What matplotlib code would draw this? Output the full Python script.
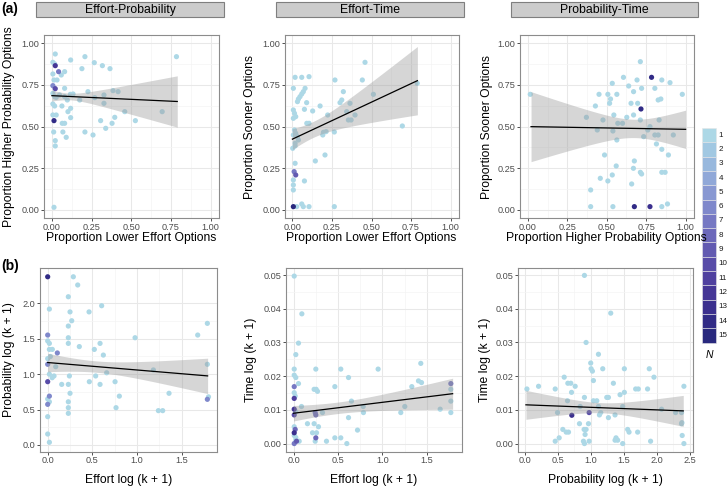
import numpy as np
import matplotlib
matplotlib.use('Agg')
import matplotlib.pyplot as plt
from matplotlib.patches import Rectangle

plt.rcParams['font.family'] = ['Liberation Sans', 'DejaVu Sans']

# ---- data ----
# (a) Effort-Probability
ep_x = [0.021, 0.006, 0.017, 0.021, 0.042, 0.059, 0.006, 0.013, 0.032, 0.080, 0.006, 0.021, 0.080,
        0.118, 0.208, 0.267, 0.318, 0.366, 0.189, 0.785, 0.227, 0.417, 0.385, 0.328, 0.270, 0.328,
        0.175, 0.133, 0.116, 0.097, 0.080, 0.048, 0.006, 0.017, 0.027, 0.063, 0.118, 0.101, 0.006,
        0.017, 0.013, 0.006, 0.027, 0.065, 0.080, 0.118, 0.011, 0.069, 0.090, 0.021, 0.021, 0.208,
        0.259, 0.307, 0.339, 0.396, 0.379, 0.459, 0.526, 0.695, 0.013]
ep_y = [0.936, 0.886, 0.876, 0.866, 0.830, 0.810, 0.816, 0.780, 0.780, 0.830, 0.746, 0.728, 0.730,
        0.900, 0.920, 0.884, 0.866, 0.848, 0.848, 0.920, 0.710, 0.710, 0.716, 0.690, 0.674, 0.640,
        0.660, 0.696, 0.694, 0.660, 0.680, 0.690, 0.700, 0.680, 0.676, 0.624, 0.610, 0.590, 0.636,
        0.624, 0.536, 0.570, 0.570, 0.520, 0.520, 0.554, 0.468, 0.468, 0.436, 0.416, 0.384, 0.468,
        0.450, 0.536, 0.490, 0.556, 0.520, 0.590, 0.536, 0.590, 0.016]
ep_n = [1, 1, 1, 12, 7, 1, 1, 1, 1, 1, 6, 10, 1,
        1, 1, 1, 1, 1, 1, 1, 1, 1, 1, 1, 1, 1,
        1, 1, 1, 1, 1, 1, 1, 1, 1, 1, 1, 1, 1,
        1, 14, 1, 1, 1, 1, 1, 1, 1, 1, 1, 1, 1,
        1, 1, 1, 1, 1, 1, 1, 1, 1]

# (a) Effort-Time
et_x = [0.017, 0.059, 0.105, 0.006, 0.080, 0.069, 0.059, 0.048, 0.038, 0.032, 0.090, 0.269, 0.459,
        0.442, 0.512, 0.322, 0.312, 0.301, 0.364, 0.175, 0.128, 0.076, 0.006, 0.013, 0.021, 0.006,
        0.091, 0.105, 0.223, 0.343, 0.354, 0.371, 0.396, 0.196, 0.213, 0.265, 0.192, 0.013, 0.021,
        0.032, 0.038, 0.017, 0.006, 0.002, 0.017, 0.206, 0.145, 0.017, 0.011, 0.021, 0.006, 0.006,
        0.006, 0.076, 0.006, 0.027, 0.059, 0.069, 0.105, 0.265, 0.695, 0.789]
et_y = [0.796, 0.796, 0.800, 0.730, 0.730, 0.710, 0.696, 0.680, 0.666, 0.650, 0.644, 0.780, 0.886,
        0.780, 0.694, 0.710, 0.660, 0.644, 0.640, 0.624, 0.594, 0.604, 0.600, 0.580, 0.560, 0.550,
        0.520, 0.520, 0.570, 0.590, 0.540, 0.540, 0.570, 0.466, 0.470, 0.468, 0.450, 0.480, 0.460,
        0.440, 0.420, 0.400, 0.450, 0.370, 0.384, 0.330, 0.294, 0.280, 0.230, 0.210, 0.180, 0.150,
        0.120, 0.174, 0.020, 0.020, 0.036, 0.020, 0.020, 0.020, 0.504, 0.760]
et_n = [1, 1, 1, 1, 1, 1, 1, 1, 1, 1, 1, 1, 1,
        1, 1, 1, 1, 1, 1, 1, 1, 1, 1, 1, 1, 1,
        1, 1, 1, 1, 1, 1, 1, 1, 1, 1, 1, 1, 1,
        1, 1, 1, 1, 1, 1, 1, 1, 1, 7, 9, 1, 1,
        1, 1, 15, 1, 1, 1, 1, 1, 1, 1]

# (a) Probability-Time
pt_x = [0.015, 0.371, 0.428, 0.451, 0.440, 0.507, 0.524, 0.535, 0.606, 0.564, 0.545, 0.518, 0.570,
        0.539, 0.564, 0.476, 0.639, 0.713, 0.692, 0.670, 0.654, 0.627, 0.670, 0.696, 0.717, 0.784,
        0.721, 0.805, 0.849, 0.901, 0.979, 0.843, 0.826, 0.832, 0.713, 0.774, 0.734, 0.805, 0.826,
        0.922, 0.815, 0.849, 0.891, 0.675, 0.669, 0.713, 0.721, 0.849, 0.870, 0.560, 0.535, 0.507,
        0.459, 0.486, 0.398, 0.658, 0.398, 0.539, 0.675, 0.774, 0.849, 0.885, 0.600, 0.760]
pt_y = [0.694, 0.556, 0.624, 0.694, 0.480, 0.694, 0.666, 0.760, 0.796, 0.694, 0.570, 0.640, 0.520,
        0.474, 0.420, 0.540, 0.744, 0.890, 0.780, 0.710, 0.640, 0.556, 0.570, 0.640, 0.606, 0.796,
        0.730, 0.730, 0.780, 0.764, 0.694, 0.666, 0.660, 0.540, 0.540, 0.500, 0.440, 0.450, 0.450,
        0.450, 0.396, 0.364, 0.330, 0.294, 0.250, 0.226, 0.216, 0.226, 0.226, 0.264, 0.210, 0.174,
        0.190, 0.330, 0.120, 0.156, 0.020, 0.020, 0.020, 0.020, 0.020, 0.036, 0.520, 0.480]
pt_n = [1, 1, 1, 1, 1, 1, 1, 1, 1, 1, 1, 1, 1,
        1, 1, 1, 1, 1, 1, 1, 1, 1, 1, 1, 14, 14,
        1, 1, 1, 1, 1, 1, 1, 1, 1, 1, 1, 1, 1,
        1, 1, 1, 1, 1, 1, 1, 1, 1, 1, 1, 1, 1,
        1, 1, 1, 1, 1, 1, 14, 13, 1, 1, 1, 1]

# (b) Effort log vs Probability log
ep_log_x = [0.000, 0.287, 0.336, 0.231, 0.019, 0.250, 0.463, 0.604, 0.269, 0.231, 0.000, 0.231, 0.978,
            1.679, 1.787, 0.000, 0.019, 0.231, 0.586, 0.354, 0.522, 0.019, 0.052, 0.108, 0.623, 0.000,
            0.090, 1.183, 0.660, 0.537, 0.071, 0.157, 0.231, 0.243, 0.586, 0.466, 0.754, 0.000, 0.250,
            0.019, 0.802, 0.765, 1.358, 1.239, 1.287, 1.800, 1.787, 0.000, 0.019, 0.231, 0.231, 0.231,
            0.000, 0.000, 0.019, 1.787, 0.030, 0.000, 0.050, 0.019, 0.000]
ep_log_y = [2.376, 2.376, 2.260, 2.094, 1.920, 1.880, 1.880, 1.967, 1.755, 1.680, 1.553, 1.515, 1.515,
            1.553, 1.718, 1.470, 1.435, 1.435, 1.435, 1.390, 1.350, 1.350, 1.350, 1.300, 1.270, 1.140,
            1.106, 1.060, 1.020, 0.975, 0.975, 0.856, 0.856, 0.975, 0.856, 0.894, 0.894, 0.894, 0.730,
            0.690, 0.690, 0.527, 0.730, 0.485, 0.485, 0.680, 0.645, 0.574, 0.610, 0.610, 0.527, 0.447,
            0.400, 0.155, 0.038, 1.140, 1.250, 1.220, 0.950, 1.000, 0.650]
ep_log_n = [14, 1, 1, 1, 1, 1, 1, 1, 1, 1, 6, 1, 1,
            1, 1, 1, 1, 1, 1, 1, 1, 1, 1, 6, 1, 6,
            1, 1, 1, 1, 1, 1, 1, 1, 1, 1, 1, 10, 1,
            6, 1, 1, 1, 1, 1, 1, 6, 6, 1, 1, 1, 1,
            1, 1, 1, 1, 1, 1, 1, 1, 1]

# (b) Effort log vs Time log
et_log_x = [0.008, 0.094, 0.056, 0.026, 0.008, 0.251, 0.532, 0.952, 1.440, 0.008, 0.026, 0.619, 0.056,
            0.008, 0.465, 1.331, 1.406, 1.432, 0.232, 0.255, 0.270, 0.008, 0.019, 0.008, 1.770, 1.770,
            1.770, 1.770, 1.650, 0.652, 0.784, 1.252, 0.090, 0.244, 0.251, 0.326, 0.008, 0.008, 0.026,
            0.787, 1.207, 0.619, 0.157, 0.232, 0.281, 0.008, 0.019, 0.008, 0.214, 0.259, 0.720, 0.251,
            0.465, 0.532, 0.034, 0.064, 0.244, 0.371, 0.008, 0.026, 0.600, 0.008, 0.026]
et_log_y = [0.0497, 0.0385, 0.0298, 0.0264, 0.0221, 0.0221, 0.0221, 0.0221, 0.0181, 0.0203, 0.0196,
            0.0196, 0.0178, 0.0169, 0.0169, 0.0169, 0.0186, 0.0238, 0.0161, 0.0161, 0.0155, 0.0151,
            0.0141, 0.0134, 0.0178, 0.0161, 0.0126, 0.0092, 0.0102, 0.0126, 0.0110, 0.0110, 0.0110,
            0.0092, 0.0085, 0.0092, 0.0102, 0.0085, 0.0095, 0.0092, 0.0092, 0.0077, 0.0059, 0.0059,
            0.0050, 0.0050, 0.0042, 0.0032, 0.0032, 0.0032, 0.0040, 0.0017, 0.0017, 0.0017, 0.0007,
            0.0007, 0.0007, 0.0007, 0.0000, 0.0010, 0.0000, 0.0024, 0.0018]
et_log_n = [1, 1, 1, 1, 1, 1, 1, 1, 1, 1, 1, 1, 1,
            7, 1, 1, 1, 1, 1, 1, 1, 1, 1, 11, 7, 1,
            1, 1, 1, 1, 1, 1, 1, 7, 8, 1, 12, 10, 1,
            1, 1, 1, 1, 1, 1, 1, 8, 13, 1, 1, 1, 8,
            1, 1, 9, 1, 1, 1, 7, 1, 1, 1, 1]

# (b) Probability log vs Time log
pt_log_x = [0.905, 1.303, 0.930, 1.117, 1.000, 1.006, 1.026, 1.182, 1.509, 1.886, 1.957, 0.599, 1.041,
            0.654, 0.699, 1.343, 0.765, 0.211, 0.035, 0.463, 1.680, 1.720, 1.860, 2.410, 0.710, 1.509,
            1.444, 0.905, 1.243, 1.268, 1.092, 1.041, 0.649, 0.840, 1.117, 1.484, 2.072, 2.284, 2.374,
            0.498, 0.976, 0.714, 1.152, 1.132, 1.268, 1.368, 2.374, 0.830, 0.966, 0.900, 0.930, 0.578,
            0.629, 0.664, 1.559, 1.580, 1.710, 0.523, 0.463, 0.890, 0.905, 0.976, 1.383, 1.408, 1.368,
            1.484, 1.906, 2.384, 2.410, 0.915, 2.380]
pt_log_y = [0.0499, 0.0387, 0.0300, 0.0265, 0.0239, 0.0222, 0.0215, 0.0222, 0.0222, 0.0222, 0.0197,
            0.0197, 0.0187, 0.0179, 0.0179, 0.0179, 0.0170, 0.0170, 0.0162, 0.0162, 0.0162, 0.0162,
            0.0162, 0.0170, 0.0152, 0.0152, 0.0145, 0.0137, 0.0137, 0.0137, 0.0127, 0.0127, 0.0127,
            0.0110, 0.0110, 0.0110, 0.0102, 0.0092, 0.0092, 0.0092, 0.0092, 0.0084, 0.0092, 0.0085,
            0.0077, 0.0085, 0.0059, 0.0059, 0.0059, 0.0042, 0.0042, 0.0042, 0.0034, 0.0034, 0.0042,
            0.0034, 0.0034, 0.0017, 0.0007, 0.0007, 0.0000, 0.0007, 0.0017, 0.0010, 0.0010, 0.0000,
            0.0007, 0.0024, 0.0000, 0.0027, 0.0062]
pt_log_n = [1] * 40 + [10, 13] + [1] * 29

# fitted lines: end points and 95% CI half widths (left end, narrowest, right end)
fits = {
    'ep': dict(x=[0.0, 0.79], y=[0.686, 0.651], ci=[0.032, 0.020, 0.154]),
    'et': dict(x=[0.0, 0.79], y=[0.425, 0.776], ci=[0.062, 0.048, 0.205]),
    'pt': dict(x=[0.02, 1.0], y=[0.500, 0.484], ci=[0.210, 0.055, 0.115]),
    'ep_log': dict(x=[0.0, 1.79], y=[1.165, 0.976], ci=[0.130, 0.080, 0.250]),
    'et_log': dict(x=[0.0, 1.79], y=[0.0090, 0.0148], ci=[0.0023, 0.0017, 0.0046]),
    'pt_log': dict(x=[0.02, 2.4], y=[0.0115, 0.0097], ci=[0.0043, 0.0015, 0.0046]),
}

strip_titles = ['Effort-Probability', 'Effort-Time', 'Probability-Time']
legend_levels = list(range(1, 16))
# colour of each N level
legend_colors = ['#add8e6', '#a1c8e2', '#98b8dd', '#90a8d8', '#8898d2', '#7f88cb', '#7678c3',
                 '#6c68ba', '#625ab1', '#584ca8', '#4f409f', '#453696', '#3b2f8e', '#312b86',
                 '#29297e']


def ncolor(n):
    return legend_colors[n - 1]


# ---- layout (pixels) ----
W, H = 728, 487
fig = plt.figure(figsize=(W / 100, H / 100), dpi=100)


def px_axes(l, t, r, b):
    return fig.add_axes([l / W, 1 - b / H, (r - l) / W, (b - t) / H])


def draw_panel(box, x, y, n, fit, xlim, ylim, xticks, yticks, xfmt, yfmt):
    ax = px_axes(*box)
    order = np.argsort(n, kind='stable')
    ax.scatter(np.array(x)[order], np.array(y)[order], s=14, c=[ncolor(n[i]) for i in order],
               linewidths=0, zorder=2)
    # regression line and confidence band
    x0, x1 = fit['x']
    y0, y1 = fit['y']
    wl, wm, wr = fit['ci']
    r = np.sqrt((wl ** 2 - wm ** 2) / (wr ** 2 - wm ** 2))
    xc = (x0 + r * x1) / (1 + r)
    k = (wl ** 2 - wm ** 2) / (xc - x0) ** 2
    xs = np.linspace(x0, x1, 200)
    ys = y0 + (y1 - y0) * (xs - x0) / (x1 - x0)
    w = np.sqrt(wm ** 2 + k * (xs - xc) ** 2)
    ax.fill_between(xs, ys - w, ys + w, color='#999999', alpha=0.4, lw=0, zorder=3)
    ax.plot(xs, ys, color='black', lw=0.9, zorder=4)

    ax.set_xlim(*xlim)
    ax.set_ylim(*ylim)
    ax.set_xticks(xticks)
    ax.set_yticks(yticks)
    ax.set_xticks([(a + b) / 2 for a, b in zip(xticks[:-1], xticks[1:])], minor=True)
    ax.set_yticks([(a + b) / 2 for a, b in zip(yticks[:-1], yticks[1:])], minor=True)
    ax.set_xticklabels([xfmt % v for v in xticks])
    ax.set_yticklabels([yfmt % v for v in yticks])
    ax.grid(which='major', color='#e8e8e8', lw=0.75, zorder=0)
    ax.grid(which='minor', color='#f4f4f4', lw=0.5, zorder=0)
    ax.set_axisbelow(True)
    ax.tick_params(which='major', length=2.0, width=0.6, color='#333333', pad=1.2,
                   labelsize=6.6, labelcolor='#4d4d4d')
    ax.tick_params(which='minor', length=0)
    for sp in ax.spines.values():
        sp.set_color('#8c8c8c')
        sp.set_linewidth(0.8)
    return ax


a_ticks = [0, 0.25, 0.5, 0.75, 1.0]
a_lim = (-0.05, 1.05)
top_boxes = [(44, 35, 218.5, 218.3), (284.5, 35, 458.5, 218.3), (520, 35, 693.5, 218.3)]
draw_panel(top_boxes[0], ep_x, ep_y, ep_n, fits['ep'], a_lim, a_lim, a_ticks, a_ticks, '%.2f', '%.2f')
draw_panel(top_boxes[1], et_x, et_y, et_n, fits['et'], a_lim, a_lim, a_ticks, a_ticks, '%.2f', '%.2f')
draw_panel(top_boxes[2], pt_x, pt_y, pt_n, fits['pt'], a_lim, a_lim, a_ticks, a_ticks, '%.2f', '%.2f')

t_ticks = [0, 0.01, 0.02, 0.03, 0.04, 0.05]
t_lim = (-0.0025, 0.0521)
bot_boxes = [(40, 268, 217, 452), (285.5, 268, 461.5, 452), (518, 268, 692.5, 452)]
draw_panel(bot_boxes[0], ep_log_x, ep_log_y, ep_log_n, fits['ep_log'], (-0.086, 1.895), (-0.099, 2.5),
           [0, 0.5, 1.0, 1.5], [0, 0.5, 1.0, 1.5, 2.0], '%.1f', '%.1f')
draw_panel(bot_boxes[1], et_log_x, et_log_y, et_log_n, fits['et_log'], (-0.09, 1.89), t_lim,
           [0, 0.5, 1.0, 1.5], t_ticks, '%.1f', '%.2f')
draw_panel(bot_boxes[2], pt_log_x, pt_log_y, pt_log_n, fits['pt_log'], (-0.1, 2.54), t_lim,
           [0, 0.5, 1.0, 1.5, 2.0, 2.5], t_ticks, '%.1f', '%.2f')


def ftext(px, py, s, **kw):
    fig.text(px / W, 1 - py / H, s, **kw)


# strips
strip_boxes = [(36, 1.5, 224, 17), (276, 1.5, 464, 17), (511, 1.5, 698, 17)]
for (l, t, r, b), title in zip(strip_boxes, strip_titles):
    fig.add_artist(Rectangle((l / W, 1 - b / H), (r - l) / W, (b - t) / H, transform=fig.transFigure,
                             facecolor='#cccccc', edgecolor='#7f7f7f', lw=0.8))
    ftext((l + r) / 2, (t + b) / 2 + 0.5, title, ha='center', va='center', fontsize=8.8)

# axis titles
xlab_top = ['Proportion Lower Effort Options', 'Proportion Lower Effort Options',
            'Proportion Higher Probability Options']
ylab_top = ['Proportion Higher Probability Options', 'Proportion Sooner Options',
            'Proportion Sooner Options']
xlab_bot = ['Effort log (k + 1)', 'Effort log (k + 1)', 'Probability log (k + 1)']
ylab_bot = ['Probability log (k + 1)', 'Time log (k + 1)', 'Time log (k + 1)']
ylab_x_top = [9, 249.5, 487.5]
ylab_x_bot = [9, 251, 485]
for i in range(3):
    l, t, r, b = top_boxes[i]
    ftext((l + r) / 2, 238, xlab_top[i], ha='center', va='center', fontsize=8.7)
    ftext(ylab_x_top[i], (t + b) / 2, ylab_top[i], ha='center', va='center', rotation=90, fontsize=8.7)
    l, t, r, b = bot_boxes[i]
    ftext((l + r) / 2, 480, xlab_bot[i], ha='center', va='center', fontsize=8.7)
    ftext(ylab_x_bot[i], (t + b) / 2, ylab_bot[i], ha='center', va='center', rotation=90, fontsize=8.7)

ftext(1, 8.5, '(a)', ha='left', va='center', fontsize=10, fontweight='bold')
ftext(1, 266, '(b)', ha='left', va='center', fontsize=10, fontweight='bold')

# legend
key_l, key_r, key_top, key_h = 702, 716, 128, 14.3
for i, lev in enumerate(legend_levels):
    yt = key_top + i * key_h
    fig.add_artist(Rectangle((key_l / W, 1 - (yt + key_h) / H), (key_r - key_l) / W, key_h / H,
                             transform=fig.transFigure, facecolor=ncolor(lev), edgecolor='#e6e6e6', lw=0.4))
    ftext(718.8, yt + key_h / 2, str(lev), ha='left', va='center', fontsize=5.8, color='#1a1a1a')
ftext(709, 355, 'N', ha='center', va='center', fontsize=7.5, style='italic')

fig.savefig('out.png', dpi=100)
